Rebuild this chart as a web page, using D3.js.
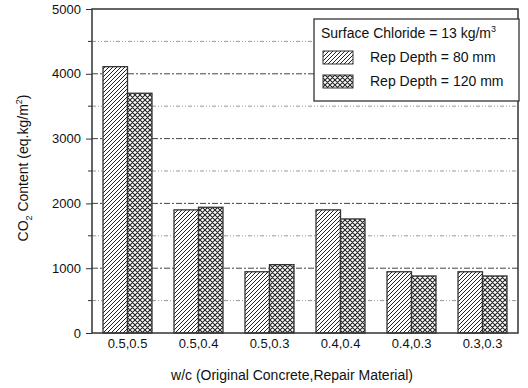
<!DOCTYPE html>
<html><head><meta charset="utf-8">
<script src="https://cdn.jsdelivr.net/npm/d3@7"></script>
<style>body{margin:0;background:#fff}svg{display:block;font-family:"Liberation Sans",Arial,sans-serif}</style>
</head><body>
<script>
const categories = ["0.5,0.5","0.5,0.4","0.5,0.3","0.4,0.4","0.4,0.3","0.3,0.3"];
const depth80 = [4110,1900,945,1900,945,945];
const depth120 = [3700,1940,1055,1760,880,880];
const seriesNames = ["Rep Depth = 80 mm","Rep Depth = 120 mm"];
const yTicks = [0,1000,2000,3000,4000,5000];
const yMinor = [500,1500,2500,3500,4500];

const W=528,H=388, m={l:92,r:10,t:9,b:55};
const svg=d3.select("body").append("svg").attr("width",W).attr("height",H);
const defs=svg.append("defs");
const p1=defs.append("pattern").attr("id","hatch").attr("patternUnits","userSpaceOnUse").attr("width",4).attr("height",4);
p1.append("rect").attr("width",4).attr("height",4).attr("fill","#fff");
p1.append("path").attr("d","M-1,1 l2,-2 M0,4 l4,-4 M3,5 l2,-2").attr("stroke","#222").attr("stroke-width",1);
const p2=defs.append("pattern").attr("id","cross").attr("patternUnits","userSpaceOnUse").attr("width",5).attr("height",5);
p2.append("rect").attr("width",5).attr("height",5).attr("fill","#fff");
p2.append("path").attr("d","M-1,1 l2,-2 M0,5 l5,-5 M4,6 l2,-2 M-1,4 l2,2 M0,0 l5,5 M4,-1 l2,2").attr("stroke","#222").attr("stroke-width",1.1);

const x=d3.scaleBand().domain(categories).range([m.l,W-m.r]).paddingInner(0.31).paddingOuter(0.155);
const x2=d3.scaleBand().domain([0,1]).range([0,x.bandwidth()]);
const y=d3.scaleLinear().domain([0,5000]).range([H-m.b,m.t]);
const fills=["url(#hatch)","url(#cross)"];

// grid
svg.append("g").selectAll("line").data(yMinor).join("line")
 .attr("x1",m.l).attr("x2",W-m.r).attr("y1",d=>y(d)).attr("y2",d=>y(d))
 .attr("stroke","#999").attr("stroke-width",1).attr("stroke-dasharray","4,2,1,2,1,2");
svg.append("g").selectAll("line").data(yTicks.slice(1,5)).join("line")
 .attr("x1",m.l).attr("x2",W-m.r).attr("y1",d=>y(d)).attr("y2",d=>y(d))
 .attr("stroke","#444").attr("stroke-width",1).attr("stroke-dasharray","6,2,2,2");

// bars
const series=[depth80,depth120];
series.forEach((vals,si)=>{
 svg.append("g").selectAll("rect").data(categories).join("rect")
  .attr("x",(c)=>x(c)+x2(si)).attr("width",x2.bandwidth())
  .attr("y",(c,i)=>y(vals[i])).attr("height",(c,i)=>y(0)-y(vals[i]))
  .attr("fill",fills[si]).attr("stroke","#333").attr("stroke-width",1.3);
});

// axes
const ya=svg.append("g").attr("transform",`translate(${m.l},0)`)
 .call(d3.axisLeft(y).tickValues(yTicks).tickSize(6).tickPadding(5).tickFormat(d3.format("d")));
ya.select(".domain").remove();
ya.selectAll("line").attr("stroke","#333");
ya.selectAll("text").attr("font-size",13).attr("fill","#111").attr("font-family","Liberation Sans, Arial, sans-serif");
svg.append("g").selectAll("line").data(yMinor).join("line")
 .attr("x1",m.l-4).attr("x2",m.l).attr("y1",d=>y(d)).attr("y2",d=>y(d)).attr("stroke","#333");
const xa=svg.append("g").attr("transform",`translate(0,${H-m.b})`)
 .call(d3.axisBottom(x).tickSize(0).tickPadding(6));
xa.select(".domain").remove();
xa.selectAll("text").attr("font-size",13).attr("fill","#111").attr("font-family","Liberation Sans, Arial, sans-serif");

// frame
svg.append("rect").attr("x",m.l).attr("y",m.t).attr("width",W-m.r-m.l).attr("height",H-m.b-m.t)
 .attr("fill","none").attr("stroke","#333").attr("stroke-width",1.5);

// titles
svg.append("text").attr("x",292).attr("y",380).attr("text-anchor","middle").attr("font-size",14).attr("fill","#111")
 .text("w/c (Original Concrete,Repair Material)");
const yt=svg.append("text").attr("transform","translate(28,168) rotate(-90)").attr("text-anchor","middle").attr("font-size",14).attr("fill","#111");
yt.append("tspan").text("CO");
yt.append("tspan").attr("font-size",9).attr("dy",4).text("2");
yt.append("tspan").attr("dy",-4).text(" Content (eq.kg/m");
yt.append("tspan").attr("font-size",9).attr("dy",-6).text("2");
yt.append("tspan").attr("dy",6).text(")");

// legend
const lg=svg.append("g");
lg.append("rect").attr("x",314).attr("y",19).attr("width",205).attr("height",82).attr("fill","#fff").attr("stroke","#333").attr("stroke-width",1.3);
const lt=lg.append("text").attr("x",321).attr("y",38).attr("font-size",14).attr("fill","#111");
lt.append("tspan").text("Surface Chloride = 13 kg/m");
lt.append("tspan").attr("font-size",9).attr("dy",-6).text("3");
seriesNames.forEach((n,i)=>{
 lg.append("rect").attr("x",323).attr("y",51+i*24).attr("width",30).attr("height",13).attr("fill",fills[i]).attr("stroke","#333").attr("stroke-width",1);
 lg.append("text").attr("x",370).attr("y",62+i*24).attr("font-size",14).attr("fill","#111").text(n);
});
</script>
</body></html>
